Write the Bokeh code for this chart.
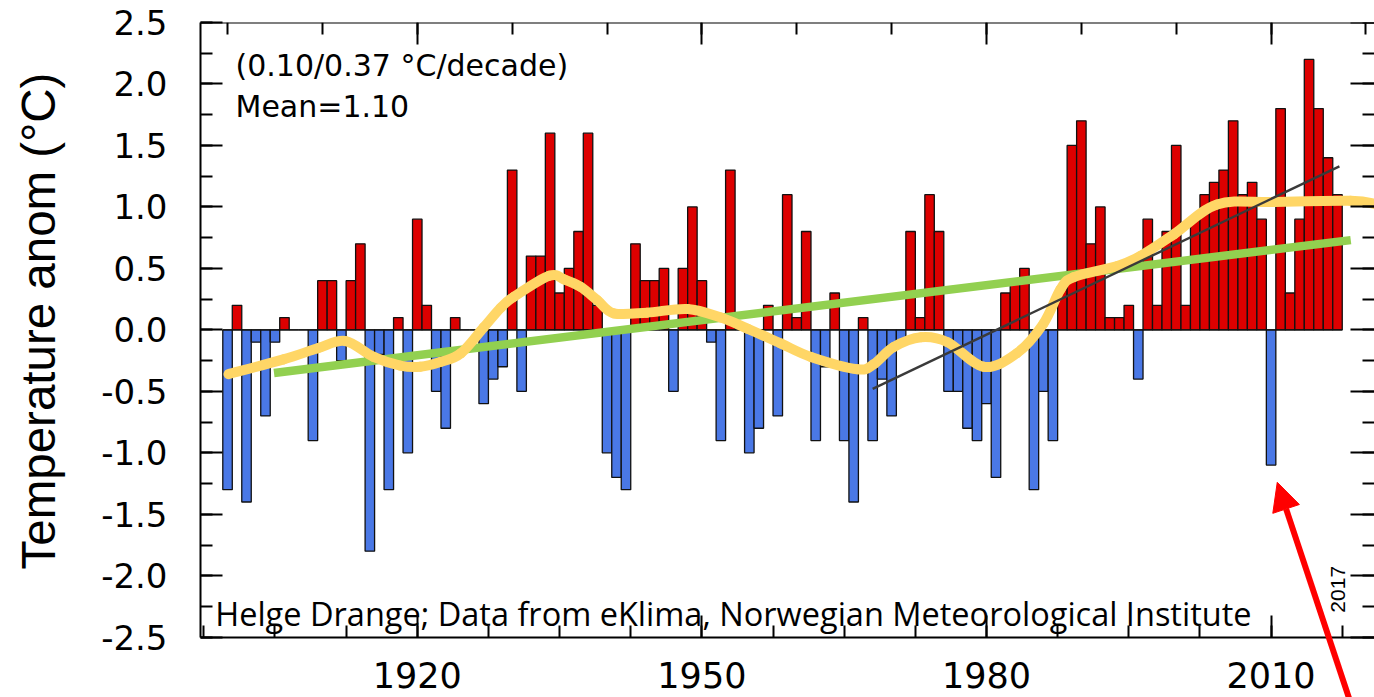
from bokeh.plotting import figure
from bokeh.models import (FixedTicker, LinearAxis, Range1d, Label, Arrow, NormalHead,
                          ColumnDataSource, Title)
from bokeh.embed import file_html
from bokeh.resources import INLINE
import math

# ---------------- data ----------------
years = list(range(1900, 2018))
anom = [
    -1.3, 0.2, -1.4, -0.1, -0.7, -0.1, 0.1, 0.0, 0.0, -0.9,      # 1900-1909
    0.4, 0.4, -0.25, 0.4, 0.7, -1.8, -0.2, -1.3, 0.1, -1.0,      # 1910-1919
    0.9, 0.2, -0.5, -0.8, 0.1, 0.0, 0.0, -0.6, -0.4, -0.3,       # 1920-1929
    1.3, -0.5, 0.6, 0.6, 1.6, 0.3, 0.5, 0.8, 1.6, 0.2,           # 1930-1939
    -1.0, -1.2, -1.3, 0.7, 0.4, 0.4, 0.5, -0.5, 0.5, 1.0,        # 1940-1949
    0.4, -0.1, -0.9, 1.3, 0.0, -1.0, -0.8, 0.2, -0.7, 1.1,       # 1950-1959
    0.1, 0.8, -0.9, -0.3, 0.3, -0.9, -1.4, 0.1, -0.9, -0.4,      # 1960-1969
    -0.7, -0.1, 0.8, 0.1, 1.1, 0.8, -0.5, -0.5, -0.8, -0.9,      # 1970-1979
    -0.6, -1.2, 0.3, 0.4, 0.5, -1.3, -0.5, -0.9, 0.35, 1.5,      # 1980-1989
    1.7, 0.7, 1.0, 0.1, 0.1, 0.2, -0.4, 0.9, 0.2, 0.8,           # 1990-1999
    1.5, 0.2, 0.9, 1.1, 1.2, 1.3, 1.7, 1.1, 1.2, 0.9,            # 2000-2009
    -1.1, 1.8, 0.3, 0.9, 2.2, 1.8, 1.4, 1.1,                     # 2010-2017
]

smooth_years = [1900.1, 1905.9, 1909.5, 1912.4, 1915.4, 1918.2, 1920.3,
                1922.5, 1924.6, 1927.0, 1928.8, 1930.2, 1933.9, 1935.5, 1937.2,
                1939.0, 1940.7, 1944.2, 1948.5, 1952.0, 1954.8, 1958.3, 1961.5,
                1966.4, 1968.1, 1970.2, 1973.1, 1975.9, 1979.7, 1983.2, 1986.0,
                1987.8, 1989.2, 1993.8, 1996.2, 1999.8, 2004.3, 2010.3, 2018.4,
                2021.2]
smooth_vals = [-0.36, -0.24, -0.15, -0.09, -0.22, -0.29, -0.30,
               -0.26, -0.19, 0.02, 0.18, 0.27, 0.44, 0.41, 0.35,
               0.24, 0.135, 0.14, 0.17, 0.10, 0.01, -0.11, -0.22,
               -0.32, -0.28, -0.14, -0.06, -0.10, -0.30, -0.19, 0.05,
               0.33, 0.43, 0.52, 0.60, 0.78, 1.02, 1.04, 1.05,
               1.02]

trend_years = [1904.9, 2018.4]
trend_vals = [-0.35, 0.73]

recent_years = [1968.0, 2017.2]
recent_vals = [-0.48, 1.33]

y_ticks = [2.5, 2.0, 1.5, 1.0, 0.5, 0.0, -0.5, -1.0, -1.5, -2.0, -2.5]
y_tick_labels = ["2.5", "2.0", "1.5", "1.0", "0.5", "0.0", "-0.5", "-1.0", "-1.5", "-2.0", "-2.5"]
x_ticks = [1920, 1950, 1980, 2010]
x_tick_labels = ["1920", "1950", "1980", "2010"]

y_title = "Temperature anom (°C)"

arrow_start = (2018.45, -3.05)
arrow_end = (2010.65, -1.24)

RED = "#DD0000"
BLUE = "#4A78E6"
YELLOW = "#FFD666"
GREEN = "#92D050"

X0, X1 = 1897.15, 2020.9
Y0, Y1 = -2.99, 2.5

# ---------------- figure ----------------
p = figure(width=1374, height=697,
           x_range=Range1d(X0, X1), y_range=Range1d(Y0, Y1),
           output_backend="svg", toolbar_location=None,
           min_border_left=200, min_border_right=0,
           min_border_top=22, min_border_bottom=0)
p.outline_line_color = None
p.xgrid.visible = False
p.ygrid.visible = False
p.background_fill_color = "white"
p.border_fill_color = "white"

colors = [RED if v > 0 else BLUE for v in anom]
src = ColumnDataSource(dict(x=years, top=anom, color=colors))
p.vbar(x="x", top="top", bottom=0, width=1.0, fill_color="color",
       line_color="#111111", line_width=1.3, source=src)

# zero line across the bar span
p.line(x=[years[0] - 0.5, years[-1] + 0.5], y=[0, 0], line_color="#111111", line_width=1.3)

# linear trend
p.line(x=trend_years, y=trend_vals, line_color=GREEN, line_width=8.5)

# smoothed curve drawn as Catmull-Rom bezier segments through the read points
n = len(smooth_years)
bx0, by0, bx1, by1, cx0, cy0, cx1, cy1 = [], [], [], [], [], [], [], []
for i in range(n - 1):
    a = max(i - 1, 0)
    d = min(i + 2, n - 1)
    bx0.append(smooth_years[i]); by0.append(smooth_vals[i])
    bx1.append(smooth_years[i + 1]); by1.append(smooth_vals[i + 1])
    cx0.append(smooth_years[i] + (smooth_years[i + 1] - smooth_years[a]) / 6)
    cy0.append(smooth_vals[i] + (smooth_vals[i + 1] - smooth_vals[a]) / 6)
    cx1.append(smooth_years[i + 1] - (smooth_years[d] - smooth_years[i]) / 6)
    cy1.append(smooth_vals[i + 1] - (smooth_vals[d] - smooth_vals[i]) / 6)
p.bezier(x0=bx0, y0=by0, x1=bx1, y1=by1, cx0=cx0, cy0=cy0, cx1=cx1, cy1=cy1,
         line_color=YELLOW, line_width=10, line_cap="round")

# recent trend
p.line(x=recent_years, y=recent_vals, line_color="#3a3a3a", line_width=2.4)

# ---------------- axes ----------------
y_minor = [t / 4 for t in range(-10, 11)]
x_minor_bottom = [1897.5 + 7.5 * k for k in range(17)]
x_minor_top = list(range(1900, 2021, 10))

def style_axis(ax):
    ax.axis_line_width = 2
    ax.axis_line_color = "black"
    ax.major_tick_line_width = 2
    ax.minor_tick_line_width = 2
    ax.major_tick_out = 0
    ax.minor_tick_out = 0

yl = p.yaxis[0]
yl.ticker = FixedTicker(ticks=y_ticks, minor_ticks=y_minor)
yl.major_label_overrides = dict(zip(y_ticks, y_tick_labels))
yl.bounds = (-2.5, 2.5)
style_axis(yl)
yl.major_tick_in = 22
yl.minor_tick_in = 12
yl.major_label_standoff = 33
yl.major_label_text_font = "DejaVu Sans"
yl.major_label_text_font_size = "34px"
yl.major_label_text_color = "black"

# invisible spacer between the tick labels and the vertical title:
# a single white tick in the empty white margin below the axis
spacer = LinearAxis(ticker=FixedTicker(ticks=[-2.9], minor_ticks=[]))
spacer.axis_line_color = None
spacer.major_tick_line_color = "white"
spacer.minor_tick_line_color = None
spacer.major_label_text_color = None
spacer.major_label_text_font_size = "1px"
spacer.major_label_standoff = 0
spacer.major_tick_in = 0
spacer.minor_tick_in = 0
spacer.minor_tick_out = 0
spacer.major_tick_out = 32
p.add_layout(spacer, "left")

# vertical axis title, aligned with the -2.5..2.5 part of the frame
p.add_layout(Title(text=y_title, align="left", offset=128, standoff=4,
                   text_font="Liberation Sans", text_font_size="47.5px",
                   text_font_style="normal", text_color="black"), "left")

xb = p.xaxis[0]
xb.ticker = FixedTicker(ticks=x_ticks, minor_ticks=x_minor_bottom)
xb.major_label_overrides = dict(zip(x_ticks, x_tick_labels))
xb.fixed_location = -2.5
style_axis(xb)
xb.major_tick_in = 22
xb.minor_tick_in = 12
xb.major_label_standoff = 25
xb.major_label_text_font = "DejaVu Sans"
xb.major_label_text_font_size = "35px"
xb.major_label_text_color = "black"

xt = LinearAxis(ticker=FixedTicker(ticks=x_ticks, minor_ticks=x_minor_top))
style_axis(xt)
xt.fixed_location = 2.5
xt.major_tick_in = 22
xt.minor_tick_in = 12
xt.major_label_text_color = None
p.add_layout(xt, "above")

yr = LinearAxis(ticker=FixedTicker(ticks=y_ticks, minor_ticks=y_minor))
style_axis(yr)
yr.fixed_location = X1
yr.bounds = (-2.5, 2.5)
yr.axis_line_color = None
yr.major_tick_in = 24
yr.minor_tick_in = 12
yr.major_label_text_color = None
p.add_layout(yr, "right")

# ---------------- annotations ----------------
p.add_layout(Label(x=1900.84, y=2.15, text="(0.10/0.37 °C/decade)",
                   text_font="DejaVu Sans", text_font_size="30px",
                   text_baseline="middle", text_align="left", text_color="black"))
p.add_layout(Label(x=1900.84, y=1.82, text="Mean=1.10",
                   text_font="DejaVu Sans", text_font_size="30px",
                   text_baseline="middle", text_align="left", text_color="black"))
p.add_layout(Label(x=1898.7, y=-2.307,
                   text="Helge Drange; Data from eKlima, Norwegian Meteorological Institute",
                   text_font="Open Sans", text_font_size="32.5px",
                   text_baseline="alphabetic", text_align="left", text_color="black"))
p.add_layout(Label(x=2017.0, y=-2.11, text="2017", angle=math.pi / 2,
                   text_font="Liberation Sans", text_font_size="21px",
                   text_baseline="middle", text_align="center", text_color="black"))

p.add_layout(Arrow(end=NormalHead(size=28, fill_color="#FF0000", line_color="#FF0000"),
                   x_start=arrow_start[0], y_start=arrow_start[1],
                   x_end=arrow_end[0], y_end=arrow_end[1],
                   line_color="#FF0000", line_width=6))

open("out.html", "w").write(file_html(p, INLINE))
